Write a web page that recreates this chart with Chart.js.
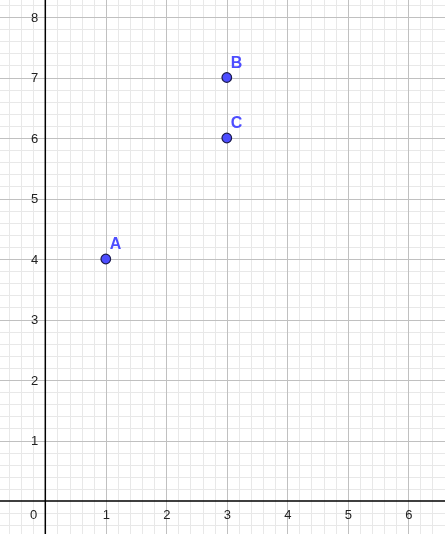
<!DOCTYPE html>
<html>
<head>
<meta charset="utf-8">
<script src="https://cdn.jsdelivr.net/npm/chart.js@4"></script>
<style>
  html, body { margin: 0; padding: 0; background: #ffffff; }
  #wrap { width: 445px; height: 534px; }
</style>
</head>
<body>
<div id="wrap"><canvas id="c" width="445" height="534"></canvas></div>
<script>
// ---- data ----
const pointNames = ['A', 'B', 'C'];
const pointX = [1, 3, 3];
const pointY = [4, 7, 6];
const xTickValues = [1, 2, 3, 4, 5, 6];
const xTickLabels = ['1', '2', '3', '4', '5', '6'];
const yTickValues = [1, 2, 3, 4, 5, 6, 7, 8];
const yTickLabels = ['1', '2', '3', '4', '5', '6', '7', '8'];
const originLabel = '0';

// ---- view window ----
const X_MIN = -0.749, X_MAX = 6.607;
const Y_MIN = -0.545, Y_MAX = 8.281;
const MINOR_STEP = 0.2;

function gridValues(min, max, step) {
  const out = [];
  const start = Math.ceil(min / step - 1e-9);
  const end = Math.floor(max / step + 1e-9);
  for (let i = start; i <= end; i++) out.push(+(i * step).toFixed(6));
  return out;
}
function isMajor(v) { return Math.abs(v - Math.round(v)) < 1e-6; }

const axesPlugin = {
  id: 'ggbAxes',
  beforeDatasetsDraw(chart) {
    const ctx = chart.ctx;
    const xs = chart.scales.x, ys = chart.scales.y;
    const W = chart.width, H = chart.height;
    const snap = p => Math.round(p) + 0.5;
    ctx.save();
    ctx.lineWidth = 1;
    // minor grid
    ctx.strokeStyle = '#e8e8e8';
    ctx.beginPath();
    gridValues(X_MIN, X_MAX, MINOR_STEP).filter(v => !isMajor(v)).forEach(v => {
      const p = snap(xs.getPixelForValue(v)); ctx.moveTo(p, 0); ctx.lineTo(p, H);
    });
    gridValues(Y_MIN, Y_MAX, MINOR_STEP).filter(v => !isMajor(v)).forEach(v => {
      const p = snap(ys.getPixelForValue(v)); ctx.moveTo(0, p); ctx.lineTo(W, p);
    });
    ctx.stroke();
    // major grid
    ctx.strokeStyle = '#c0c0c0';
    ctx.beginPath();
    gridValues(X_MIN, X_MAX, 1).filter(v => v !== 0).forEach(v => {
      const p = snap(xs.getPixelForValue(v)); ctx.moveTo(p, 0); ctx.lineTo(p, H);
    });
    gridValues(Y_MIN, Y_MAX, 1).filter(v => v !== 0).forEach(v => {
      const p = snap(ys.getPixelForValue(v)); ctx.moveTo(0, p); ctx.lineTo(W, p);
    });
    ctx.stroke();
    // axes
    const ox = xs.getPixelForValue(0), oy = ys.getPixelForValue(0);
    ctx.strokeStyle = '#000000';
    ctx.lineWidth = 1.5;
    ctx.beginPath();
    ctx.moveTo(0, oy); ctx.lineTo(W, oy);
    ctx.moveTo(ox, 0); ctx.lineTo(ox, H);
    ctx.stroke();
    // tick labels
    ctx.fillStyle = '#222222';
    ctx.font = '13px "Liberation Sans", Arial, sans-serif';
    ctx.textBaseline = 'alphabetic';
    ctx.textAlign = 'center';
    xTickValues.forEach((v, i) => {
      ctx.fillText(xTickLabels[i], xs.getPixelForValue(v) + 0.5, oy + 18);
    });
    ctx.textAlign = 'right';
    ctx.textBaseline = 'middle';
    yTickValues.forEach((v, i) => {
      ctx.fillText(yTickLabels[i], ox - 7, ys.getPixelForValue(v) + 1);
    });
    ctx.textBaseline = 'alphabetic';
    ctx.fillText(originLabel, ox - 8, oy + 18);
    ctx.restore();
  },
  afterDraw(chart) {
    const ctx = chart.ctx;
    const meta = chart.getDatasetMeta(0);
    ctx.save();
    ctx.fillStyle = '#4d4dff';
    ctx.font = 'bold 16px "Liberation Sans", Arial, sans-serif';
    ctx.textAlign = 'left';
    ctx.textBaseline = 'alphabetic';
    meta.data.forEach((el, i) => {
      ctx.fillText(pointNames[i], el.x + 4, el.y - 10);
    });
    ctx.restore();
  }
};

new Chart(document.getElementById('c'), {
  type: 'scatter',
  data: {
    datasets: [{
      data: pointX.map((x, i) => ({ x: x, y: pointY[i] })),
      backgroundColor: '#4d4dff',
      borderColor: '#1a1a4d',
      borderWidth: 1.2,
      pointRadius: 4.8,
      pointHoverRadius: 4.8
    }]
  },
  options: {
    responsive: false,
    animation: false,
    events: [],
    layout: { padding: 0, autoPadding: false },
    plugins: { legend: { display: false }, tooltip: { enabled: false } },
    scales: {
      x: { type: 'linear', min: X_MIN, max: X_MAX, display: false },
      y: { type: 'linear', min: Y_MIN, max: Y_MAX, display: false }
    }
  },
  plugins: [axesPlugin]
});
</script>
</body>
</html>
